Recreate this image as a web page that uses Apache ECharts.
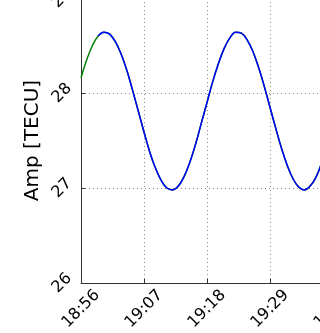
<!DOCTYPE html>
<html>
<head>
<meta charset="utf-8">
<script src="https://cdn.jsdelivr.net/npm/echarts@6/dist/echarts.min.js"></script>
<style>
  html, body { margin: 0; padding: 0; background: #fff; }
  #chart { width: 320px; height: 333px; }
</style>
</head>
<body>
<div id="chart"></div>
<script>
// Minutes after 18:56
const minutes = [0,1,2,3,4,5,6,7,8,9,10,11,12,13,14,15,16,17,18,19,20,21,22,23,24,25,26,27,28,29,30,31,32,33,34,35,36,37,38,39,40,41,42,43,44];
// Measured amplitude (TECU)
const measured = [28.16,28.35,28.50,28.60,28.64,28.62,28.54,28.41,28.24,28.03,27.81,27.59,27.38,27.21,27.08,27.00,26.98,27.02,27.12,27.27,27.46,27.68,27.90,28.12,28.31,28.47,28.58,28.64,28.63,28.56,28.44,28.27,28.07,27.85,27.63,27.42,27.24,27.10,27.01,26.98,27.02,27.11,27.26,27.44,27.66];
// Fitted curve starts at minute 3
const fitStart = 3;
const xTickLabels = ['18:56', '19:07', '19:18', '19:29', '19:40'];
const yTicks = [26, 27, 28, 29];

const measuredData = minutes.map((m, i) => [m, measured[i]]);
const fitData = minutes.map((m, i) => [m, measured[i]]).filter(p => p[0] >= fitStart);

const chart = echarts.init(document.getElementById('chart'), null, { renderer: 'canvas' });
const font = 'DejaVu Sans';
chart.setOption({
  animation: false,
  grid: { left: 81, bottom: 50, top: -2, right: -13, containLabel: false, outerBoundsMode: 'none' },
  xAxis: {
    type: 'value', min: 0, max: 44, interval: 11,
    axisLine: { lineStyle: { color: '#333', width: 1 } },
    axisTick: { inside: true, length: 4, lineStyle: { color: '#333' } },
    axisLabel: {
      rotate: 45, margin: 26, fontSize: 16, fontFamily: font, color: '#000',
      align: 'center', verticalAlign: 'middle',
      formatter: v => xTickLabels[Math.round(v / 11)] || ''
    },
    splitLine: { show: true, lineStyle: { color: '#888', type: [1, 3], width: 1 } }
  },
  yAxis: {
    type: 'value', min: 26, max: 29, interval: 1,
    name: 'Amp [TECU]', nameLocation: 'middle', nameGap: 38, nameMoveOverlap: false,
    nameTextStyle: { fontSize: 20, fontFamily: font, color: '#000' },
    axisLine: { show: true, lineStyle: { color: '#333', width: 1 } },
    axisTick: { show: true, inside: true, length: 4, lineStyle: { color: '#333' } },
    axisLabel: {
      rotate: 45, margin: 19, fontSize: 16, fontFamily: font, color: '#000',
      align: 'center', verticalAlign: 'middle',
      formatter: v => yTicks.includes(v) ? String(v) : ''
    },
    splitLine: { show: true, lineStyle: { color: '#888', type: [1, 3], width: 1 } }
  },
  series: [
    {
      type: 'line', data: measuredData, smooth: 0.4, showSymbol: false,
      lineStyle: { color: '#008000', width: 1.5 }, z: 2
    },
    {
      type: 'line', data: fitData, smooth: 0.4, showSymbol: false,
      lineStyle: { color: '#0000ff', width: 1.5 }, z: 3
    }
  ]
});
</script>
</body>
</html>
